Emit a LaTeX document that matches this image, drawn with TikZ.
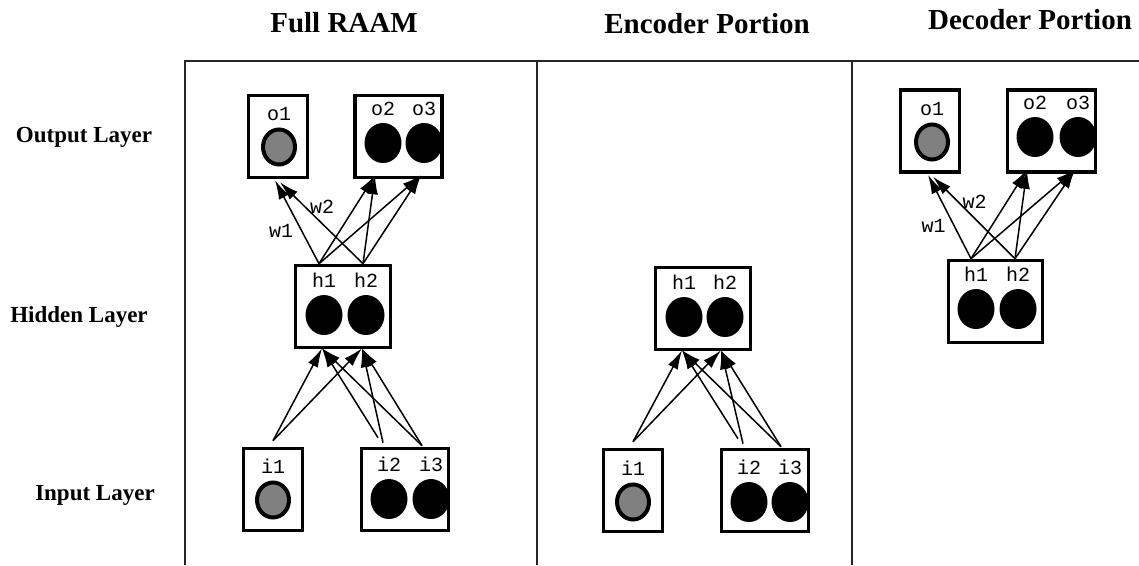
\documentclass[tikz,border=0pt]{standalone}
\usepackage{fontspec}
\setmainfont{Liberation Serif}
\setmonofont{Liberation Mono}
\usetikzlibrary{shapes.geometric, arrows.meta}
\tikzset{
    layerbox/.style={draw, line width=3.6pt, minimum height=82pt},
    unit/.style={ellipse, fill=black, minimum width=37pt, minimum height=40pt, inner sep=0pt},
    greyunit/.style={ellipse, draw=black, line width=4pt, fill=gray, minimum width=32pt, minimum height=35pt, inner sep=0pt},
    lbl/.style={font=\fontsize{20}{20}\selectfont\ttfamily, inner sep=0pt},
    unitname/.style={label={[lbl, label distance=7pt]above:#1}},
    wire/.style={line width=1.5pt, -{Latex[length=19pt,width=11pt]}},
    heading/.style={font=\fontsize{29}{29}\selectfont\bfseries, anchor=base},
    rowname/.style={font=\fontsize{23}{23}\selectfont\bfseries, anchor=base},
    frame/.style={line width=1.5pt, black!85}
}
\newcommand{\feedhidden}[1]{
    \draw[wire] ([yshift=6pt]#1I1.north -| #1i1) -- ([shift={(-2pt,1pt)}]#1H.south -| #1h1);
    \draw[wire] ([yshift=6pt]#1I1.north -| #1i1) -- ([shift={(-4pt,1pt)}]#1H.south -| #1h2);
    \draw[wire] ([shift={(-11pt,9pt)}]#1I23.north -| #1i2) -- ([shift={(-2pt,1pt)}]#1H.south -| #1h1);
    \draw[wire] ([shift={(-6pt,4pt)}]#1I23.north -| #1i2) -- ([shift={(-4pt,1pt)}]#1H.south -| #1h2);
    \draw[wire] ([shift={(-9pt,1pt)}]#1I23.north -| #1i3) -- ([shift={(-2pt,1pt)}]#1H.south -| #1h1);
    \draw[wire] ([shift={(-9pt,1pt)}]#1I23.north -| #1i3) -- ([shift={(-4pt,1pt)}]#1H.south -| #1h2);
}
\newcommand{\feedoutput}[1]{
    \draw[wire] ([xshift=-5pt]#1H.north -| #1h1) -- ([shift={(-4pt,-1pt)}]#1O1.south -| #1o1);
    \draw[wire] ([xshift=-3pt]#1H.north -| #1h2) -- ([shift={(1pt,-3pt)}]#1O1.south -| #1o1);
    \draw[wire] ([xshift=-5pt]#1H.north -| #1h1) -- ([shift={(-8pt,4pt)}]#1O23.south -| #1o2);
    \draw[wire] ([xshift=-3pt]#1H.north -| #1h2) -- ([shift={(-8pt,4pt)}]#1O23.south -| #1o2);
    \draw[wire] ([xshift=-5pt]#1H.north -| #1h1) -- ([shift={(-3pt,4pt)}]#1O23.south -| #1o3);
    \draw[wire] ([xshift=-3pt]#1H.north -| #1h2) -- ([shift={(-3pt,4pt)}]#1O23.south -| #1o3);
    \node[lbl] (#1w1) at ([shift={(-62pt,76pt)}]#1H.center) {w1};
    \node[lbl] (#1w2) at ([shift={(-21pt,100pt)}]#1H.center) {w2};
}

\begin{document}
\begin{tikzpicture}[x=1pt, y=-1pt]
    \useasboundingbox (0,0) rectangle (1139,565);
    % headings and frame
    \node[heading] (full) at (344,32) {Full RAAM};
    \node[heading] (enc) at (707,33) {Encoder Portion};
    \node[heading] (dec) at (1030,29) {Decoder Portion};
    \node[rowname] (outrow) at (84,142) {Output Layer};
    \node[rowname] (hidrow) at (79,322) {Hidden Layer};
    \node[rowname] (inrow) at (95,500) {Input Layer};
    \draw[frame] (185,565) -- (185,61) -- (1139,61);
    \draw[frame] (537,61) -- (537,565);
    \draw[frame] (852,61) -- (852,565);

    % full RAAM
    \node[layerbox, minimum width=59pt] (fO1) at (278,136.5) {};
    \node[layerbox, minimum width=87pt] (fO23) at (398.5,136.5) {};
    \node[layerbox, minimum width=95pt] (fH) at (343,306.5) {};
    \node[layerbox, minimum width=59pt] (fI1) at (273,489.5) {};
    \node[layerbox, minimum width=87pt] (fI23) at (405,489.5) {};
    \node[greyunit, unitname=o1] (fo1) at (279,147) {};
    \node[unit, unitname=o2] (fo2) at (383,143) {};
    \node[unit, unitname=o3] (fo3) at (424,143) {};
    \node[unit, unitname=h1] (fh1) at (324,315) {};
    \node[unit, unitname=h2] (fh2) at (366,315) {};
    \node[greyunit, unitname=i1] (fi1) at (273,500) {};
    \node[unit, unitname=i2] (fi2) at (389,499) {};
    \node[unit, unitname=i3] (fi3) at (431,499) {};
    \feedhidden{f}
    \feedoutput{f}

    % encoder portion
    \node[layerbox, minimum width=95pt] (eH) at (703,308.5) {};
    \node[layerbox, minimum width=59pt] (eI1) at (633,490.5) {};
    \node[layerbox, minimum width=87pt] (eI23) at (765,490.5) {};
    \node[unit, unitname=h1] (eh1) at (684,317) {};
    \node[unit, unitname=h2] (eh2) at (725,317) {};
    \node[greyunit, unitname=i1] (ei1) at (633,502) {};
    \node[unit, unitname=i2] (ei2) at (749,502) {};
    \node[unit, unitname=i3] (ei3) at (790,502) {};
    \feedhidden{e}

    % decoder portion
    \node[layerbox, minimum width=59pt] (dO1) at (930,131) {};
    \node[layerbox, minimum width=88pt] (dO23) at (1051.5,131) {};
    \node[layerbox, minimum width=94pt] (dH) at (995.5,301.5) {};
    \node[greyunit, unitname=o1] (do1) at (932,142) {};
    \node[unit, unitname=o2] (do2) at (1035,137) {};
    \node[unit, unitname=o3] (do3) at (1078,137) {};
    \node[unit, unitname=h1] (dh1) at (976,309) {};
    \node[unit, unitname=h2] (dh2) at (1018,309) {};
    \feedoutput{d}
\end{tikzpicture}
\end{document}
